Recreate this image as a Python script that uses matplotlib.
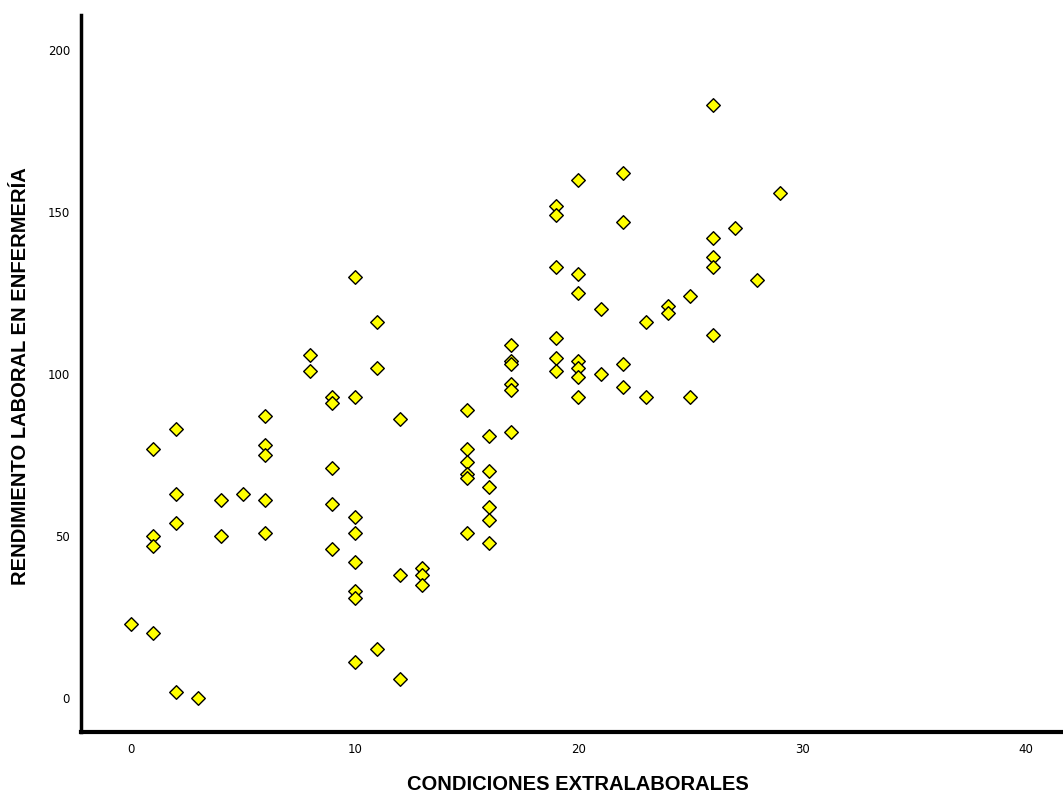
import matplotlib
matplotlib.use("Agg")
import matplotlib.pyplot as plt

# Condiciones extralaborales vs rendimiento laboral
condiciones = [0, 1, 1, 1, 1, 2, 2, 2, 2, 3, 4, 4, 5,
               6, 6, 6, 6, 6, 8, 8, 9, 9, 9, 9, 9,
               10, 10, 10, 10, 10, 10, 10, 10, 11, 11, 11, 12, 12, 12,
               13, 13, 13, 15, 15, 15, 15, 15, 15,
               16, 16, 16, 16, 16, 16, 17, 17, 17, 17, 17, 17,
               19, 19, 19, 19, 19, 19, 20, 20, 20, 20, 20, 20, 20,
               21, 21, 22, 22, 22, 22, 23, 23, 24, 24, 25, 25,
               26, 26, 26, 26, 26, 27, 28, 29]
rendimiento = [23, 77, 50, 47, 20, 83, 63, 54, 2, 0, 61, 50, 63,
               87, 78, 75, 61, 51, 106, 101, 93, 91, 71, 60, 46,
               130, 93, 56, 51, 42, 33, 31, 11, 116, 102, 15, 86, 38, 6,
               40, 38, 35, 89, 77, 73, 69, 68, 51,
               81, 70, 65, 59, 55, 48, 109, 104, 103, 97, 95, 82,
               152, 149, 133, 111, 105, 101, 160, 131, 125, 104, 102, 99, 93,
               120, 100, 162, 147, 103, 96, 116, 93, 121, 119, 124, 93,
               183, 142, 136, 133, 112, 145, 129, 156]

xticks = [0, 10, 20, 30, 40]
yticks = [0, 50, 100, 150, 200]

narrow = ["Liberation Sans Narrow", "DejaVu Sans"]
plt.rcParams["font.family"] = ["Liberation Sans", "DejaVu Sans"]

fig = plt.figure(figsize=(10.63, 7.94), dpi=100)
ax = fig.add_axes([0.0762, 0.078, 0.9238, 0.903])

ax.scatter(condiciones, rendimiento, marker="D", s=48, facecolor="#ffff00",
           edgecolor="black", linewidth=1.0, zorder=3, clip_on=False)

ax.set_xlim(-2.24, 41.66)
ax.set_ylim(-10.5, 210.8)
ax.set_xticks(xticks)
ax.set_yticks(yticks)
ax.tick_params(length=0, pad=8)
for lab in ax.get_xticklabels() + ax.get_yticklabels():
    lab.set_fontfamily(narrow)
    lab.set_fontsize(8.5)

for side in ["top", "right"]:
    ax.spines[side].set_visible(False)
ax.spines["left"].set_linewidth(2.5)
ax.spines["bottom"].set_linewidth(3)

ax.set_xlabel("CONDICIONES EXTRALABORALES", fontsize=14.5, fontweight="bold",
              va="center")
ax.set_ylabel("RENDIMIENTO LABORAL EN ENFERMERÍA", fontsize=14.5, fontweight="bold",
              va="center")
ax.xaxis.set_label_coords(0.506, -0.073)
ax.yaxis.set_label_coords(-0.062, 0.497)

fig.savefig("out.png", dpi=100)
